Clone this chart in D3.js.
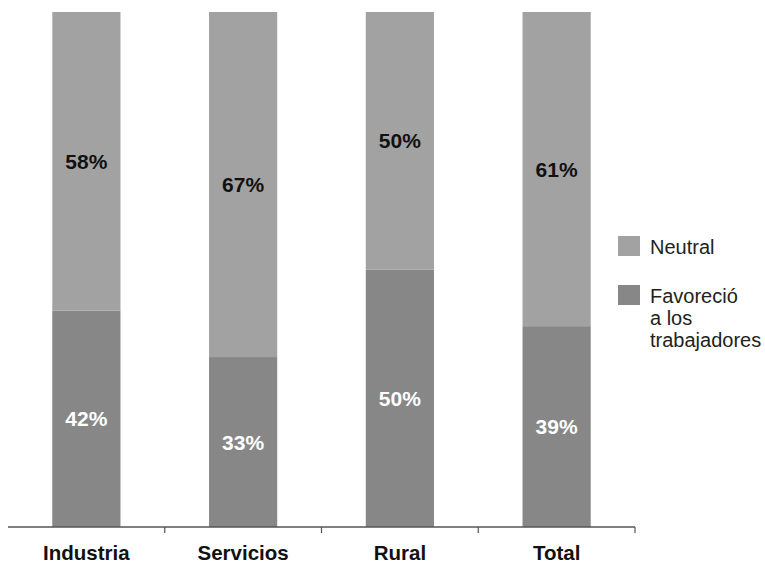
<!DOCTYPE html>
<html><head><meta charset="utf-8">
<script src="https://cdn.jsdelivr.net/npm/d3@7"></script>
<style>body{margin:0;background:#fff}svg{display:block}text{font-family:"Liberation Sans",Arial,sans-serif}</style>
</head><body><svg id="c" width="765" height="564"></svg>
<script>
const categories = ["Industria","Servicios","Rural","Total"];
const favorecio = [42,33,50,39];
const neutral = [58,67,50,61];
const seriesNames = ["Neutral","Favoreció a los trabajadores"];
const legendLines = [["Neutral"],["Favoreció","a los","trabajadores"]];

const svg = d3.select("#c");
const x = d3.scaleBand().domain(categories).range([8,635]).paddingInner(0.565).paddingOuter(0.2825);
const y = d3.scaleLinear().domain([0,100]).range([527,12]);
const colors = {fav:"#878787", neu:"#a2a2a2"};

const data = categories.map((c,i)=>({c, fav:favorecio[i], neu:neutral[i]}));
const g = svg.append("g");
g.selectAll(".fav").data(data).join("rect")
  .attr("x",d=>x(d.c)).attr("width",x.bandwidth())
  .attr("y",d=>y(d.fav)).attr("height",d=>y(0)-y(d.fav))
  .attr("fill",colors.fav);
g.selectAll(".neu").data(data).join("rect")
  .attr("x",d=>x(d.c)).attr("width",x.bandwidth())
  .attr("y",d=>y(d.fav+d.neu)).attr("height",d=>y(d.fav)-y(d.fav+d.neu))
  .attr("fill",colors.neu);
g.selectAll(".lf").data(data).join("text")
  .attr("x",d=>x(d.c)+x.bandwidth()/2).attr("y",d=>(y(0)+y(d.fav))/2+7.5)
  .attr("text-anchor","middle").attr("font-size",21).attr("font-weight","bold").attr("fill","#fff")
  .text(d=>d.fav+"%");
g.selectAll(".ln").data(data).join("text")
  .attr("x",d=>x(d.c)+x.bandwidth()/2).attr("y",d=>(y(d.fav)+y(d.fav+d.neu))/2+7.5)
  .attr("text-anchor","middle").attr("font-size",21).attr("font-weight","bold").attr("fill","#111")
  .text(d=>d.neu+"%");

const ax = svg.append("g").attr("transform","translate(0,527)");
ax.append("line").attr("x1",8).attr("x2",635).attr("stroke","#555").attr("stroke-width",1.3);
const bounds = categories.slice(1).map(c=>x(c)-x.step()*x.paddingInner()/2).concat([635]);
ax.selectAll(".tk").data(bounds).join("line")
  .attr("x1",d=>d).attr("x2",d=>d).attr("y1",0).attr("y2",6).attr("stroke","#555").attr("stroke-width",1.2);
ax.selectAll(".cl").data(categories).join("text")
  .attr("x",d=>x(d)+x.bandwidth()/2).attr("y",33)
  .attr("text-anchor","middle").attr("font-size",20.5).attr("font-weight","bold").attr("fill","#111")
  .text(d=>d);

const lg = svg.append("g");
const legY = [236,285];
const legC = [colors.neu, colors.fav];
legendLines.forEach((lines,i)=>{
  lg.append("rect").attr("x",618).attr("y",legY[i]).attr("width",22).attr("height",20).attr("fill",legC[i]);
  const t = lg.append("text").attr("x",650).attr("y",legY[i]+18).attr("font-size",20).attr("fill","#222");
  lines.forEach((l,j)=>t.append("tspan").attr("x",650).attr("dy",j?22:0).text(l));
});
</script></body></html>
